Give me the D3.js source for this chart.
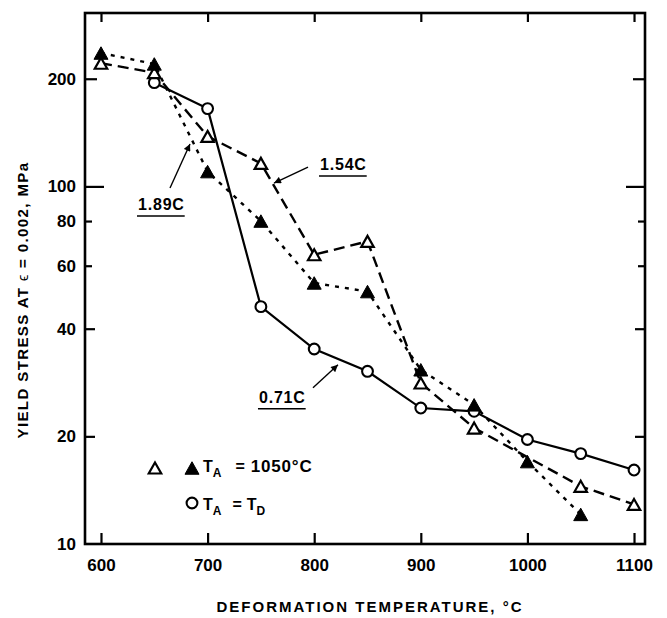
<!DOCTYPE html>
<html>
<head>
<meta charset="utf-8">
<script src="https://cdn.jsdelivr.net/npm/d3@7"></script>
<style>
  html, body { margin: 0; padding: 0; background: #fff; }
  svg text { font-family: "Liberation Sans", Arial, Helvetica, sans-serif; font-weight: bold; fill: #000; }
</style>
</head>
<body>
<svg id="chart" width="667" height="618"></svg>
<script>
// Yield stress (MPa) at strain 0.002 versus deformation temperature (°C)
// 1.54C steel, annealed at 1050 °C (open triangles, dashed)
const temps154  = [600, 650, 700, 750, 800, 850, 900, 950, 1050, 1100];
const stress154 = [221, 208, 138, 116, 64.4, 70.2, 28.2, 21.1, 14.5, 12.9];
// 1.89C steel, annealed at 1050 °C (filled triangles, dotted)
const temps189  = [600, 650, 700, 750, 800, 850, 900, 950, 1000, 1050];
const stress189 = [236, 220, 110, 80, 53.7, 50.8, 30.7, 24.5, 17.0, 12.1];
// 0.71C steel, annealed at the deformation temperature (open circles, solid)
const temps071  = [650, 700, 750, 800, 850, 900, 950, 1000, 1050, 1100];
const stress071 = [195, 165, 46.1, 35.1, 30.4, 24.0, 23.5, 19.6, 17.9, 16.1];

const xTicks = [600, 700, 800, 900, 1000, 1100];
const yTicks = [10, 20, 40, 60, 80, 100, 200];

const svg = d3.select("#chart");
const margin = { left: 85, right: 22, top: 13, bottom: 74 };
const W = 667, H = 618;

const x = d3.scaleLinear().domain([585, 1110.3]).range([margin.left, W - margin.right]);
const y = d3.scaleLog().domain([10, 305.4]).range([H - margin.bottom, margin.top]);

const [x0, x1] = x.range();
const [y0, y1] = y.range();

// tick length depends on the value (decade ticks are longest)
const tickLen = v => ({ 10: 0, 20: 10, 40: 10, 60: 7, 80: 7, 100: 19, 200: 12 })[v];

// frame
svg.append("rect")
  .attr("x", x0).attr("y", y1)
  .attr("width", x1 - x0).attr("height", y0 - y1)
  .attr("fill", "none").attr("stroke", "#000").attr("stroke-width", 2.6);

// left axis with labels
const gL = svg.append("g")
  .attr("transform", `translate(${x0},0)`)
  .call(d3.axisLeft(y).tickValues(yTicks).tickFormat(d3.format("d")).tickSize(0).tickPadding(9));
gL.select(".domain").remove();
gL.selectAll(".tick line").attr("x2", d => tickLen(d)).attr("stroke", "#000").attr("stroke-width", 2.2);
gL.selectAll(".tick text").attr("font-size", 17).attr("font-family", null);

// right axis, ticks only
const gR = svg.append("g")
  .attr("transform", `translate(${x1},0)`)
  .call(d3.axisRight(y).tickValues(yTicks.filter(v => v > 10)).tickFormat("").tickSize(0));
gR.select(".domain").remove();
gR.selectAll(".tick line").attr("x2", d => -tickLen(d)).attr("stroke", "#000").attr("stroke-width", 2.2);

// bottom axis with labels
const gB = svg.append("g")
  .attr("transform", `translate(0,${y0})`)
  .call(d3.axisBottom(x).tickValues(xTicks).tickFormat(d3.format("d")).tickSize(0).tickPadding(15));
gB.select(".domain").remove();
gB.selectAll(".tick line").attr("y2", -11).attr("stroke", "#000").attr("stroke-width", 2.2);
gB.selectAll(".tick text").attr("font-size", 17).attr("font-family", null);

// top axis, ticks only
const gT = svg.append("g")
  .attr("transform", `translate(0,${y1})`)
  .call(d3.axisTop(x).tickValues(xTicks).tickFormat("").tickSize(0));
gT.select(".domain").remove();
gT.selectAll(".tick line").attr("y2", 9).attr("stroke", "#000").attr("stroke-width", 2.2);

// axis titles
svg.append("text")
  .attr("x", (x0 + x1) / 2 + 5).attr("y", 612)
  .attr("text-anchor", "middle")
  .attr("font-size", 15)
  .attr("letter-spacing", 2)
  .text("DEFORMATION TEMPERATURE, °C");

const yTitle = svg.append("text")
  .attr("transform", "translate(28,300) rotate(-90)")
  .attr("text-anchor", "middle")
  .attr("font-size", 15)
  .attr("letter-spacing", 1.4);
yTitle.append("tspan").text("YIELD STRESS AT ");
yTitle.append("tspan").style("font-weight", "normal").attr("font-size", 14).text("ϵ");
yTitle.append("tspan").text(" = 0.002, MPa");

// series
const zip = (ts, vs) => ts.map((t, i) => ({ t, v: vs[i] }));
const s154 = zip(temps154, stress154);
const s189 = zip(temps189, stress189);
const s071 = zip(temps071, stress071);

const line = d3.line().x(d => x(d.t)).y(d => y(d.v));

svg.append("path").datum(s154).attr("d", line)
  .attr("fill", "none").attr("stroke", "#000").attr("stroke-width", 2.4)
  .attr("stroke-dasharray", "11,6");
svg.append("path").datum(s189).attr("d", line)
  .attr("fill", "none").attr("stroke", "#000").attr("stroke-width", 2.4)
  .attr("stroke-dasharray", "4,6");
svg.append("path").datum(s071).attr("d", line)
  .attr("fill", "none").attr("stroke", "#000").attr("stroke-width", 2.2);

// triangle symbol centred on its bounding box
const tri = (w, h) => `M0,${-h / 2}L${w / 2},${h / 2}L${-w / 2},${h / 2}Z`;

svg.append("g").selectAll("circle").data(s071).join("circle")
  .attr("cx", d => x(d.t)).attr("cy", d => y(d.v)).attr("r", 5.4)
  .attr("fill", "#fff").attr("stroke", "#000").attr("stroke-width", 2.1);

svg.append("g").selectAll("path").data(s154).join("path")
  .attr("transform", d => `translate(${x(d.t)},${y(d.v)})`)
  .attr("d", tri(12.5, 11))
  .attr("fill", "#fff").attr("stroke", "#000").attr("stroke-width", 2.2).attr("stroke-linejoin", "miter");

svg.append("g").selectAll("path").data(s189).join("path")
  .attr("transform", d => `translate(${x(d.t)},${y(d.v)})`)
  .attr("d", tri(14, 12.5))
  .attr("fill", "#000").attr("stroke", "#000").attr("stroke-width", 1);

// arrowhead for callouts
svg.append("defs").append("marker")
  .attr("id", "arrow").attr("viewBox", "0 0 10 10")
  .attr("refX", 10).attr("refY", 5)
  .attr("markerWidth", 9).attr("markerHeight", 7)
  .attr("markerUnits", "userSpaceOnUse")
  .attr("orient", "auto")
  .append("path").attr("d", "M0,0L10,5L0,10Z").attr("fill", "#000");

// callout labels: arrow tip in data space, tail and text as pixel offsets
const callouts = [
  { label: "1.54C", t: 762.3, v: 102.2, tail: [34, -16], text: [46, -13] },
  { label: "1.89C", t: 683.5, v: 131.4, tail: [-20, 44], text: [-52, 66] },
  { label: "0.71C", t: 822.3, v: 31.7,  tail: [-25, 23], text: [-79, 38] }
];

callouts.forEach(c => {
  const px = x(c.t), py = y(c.v);
  svg.append("line")
    .attr("x1", px + c.tail[0]).attr("y1", py + c.tail[1])
    .attr("x2", px).attr("y2", py)
    .attr("stroke", "#000").attr("stroke-width", 1.4)
    .attr("marker-end", "url(#arrow)");
  const tx = px + c.text[0], ty = py + c.text[1];
  const t = svg.append("text")
    .attr("x", tx).attr("y", ty)
    .attr("font-size", 16).attr("letter-spacing", 0.8)
    .text(c.label);
  const w = t.node().getComputedTextLength();
  svg.append("line")
    .attr("x1", tx - 1).attr("x2", tx + w)
    .attr("y1", ty + 6).attr("y2", ty + 6)
    .attr("stroke", "#000").attr("stroke-width", 1.5);
});

// legend
const lg = svg.append("g");
lg.append("path").attr("transform", "translate(155,468)").attr("d", tri(12.5, 11))
  .attr("fill", "#fff").attr("stroke", "#000").attr("stroke-width", 2.2);
lg.append("path").attr("transform", "translate(192,468)").attr("d", tri(14, 12.5))
  .attr("fill", "#000").attr("stroke", "#000").attr("stroke-width", 1);
lg.append("circle").attr("cx", 192).attr("cy", 503).attr("r", 5.4)
  .attr("fill", "#fff").attr("stroke", "#000").attr("stroke-width", 2.1);

const l1 = lg.append("text").attr("x", 203).attr("y", 472).attr("font-size", 16);
l1.append("tspan").text("T");
l1.append("tspan").attr("font-size", 12).attr("dy", 5).text("A");
l1.append("tspan").attr("dy", -5).attr("dx", 14).text("=");
l1.append("tspan").attr("dx", 6).attr("font-size", 17).attr("letter-spacing", 0.8).text("1050°C");

const l2 = lg.append("text").attr("x", 203).attr("y", 510).attr("font-size", 16);
l2.append("tspan").text("T");
l2.append("tspan").attr("font-size", 12).attr("dy", 5).text("A");
l2.append("tspan").attr("dy", -5).attr("dx", 11).text("=");
l2.append("tspan").attr("dx", 5).text("T");
l2.append("tspan").attr("font-size", 12).attr("dy", 5).text("D");
</script>
</body>
</html>
